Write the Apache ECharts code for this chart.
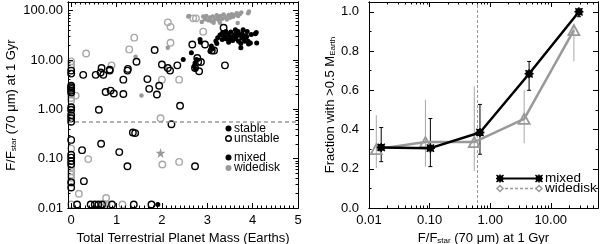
<!DOCTYPE html>
<html><head><meta charset="utf-8">
<script src="https://cdn.jsdelivr.net/npm/echarts@6/dist/echarts.min.js"></script>
<style>html,body{margin:0;padding:0;background:#fff}#c{width:600px;height:244px}</style>
</head><body><div id="c"></div>
<script>
// ---------------- DATA: left panel (mass vs F/Fstar) ----------------
const massTicks = [0, 1, 2, 3, 4, 5];
const fluxTicksLeft = [0.01, 0.1, 1, 10, 100];
const thresholdLeft = 0.57;

// mixed, stable (black filled)
const mixedStable = [
  [2.47,10.2],[2.65,14],[2.71,7.5],[2.73,8.7],[2.76,10.3],[2.74,6.6],[2.84,26],[2.85,23],
  [3.09,19.2],[3.12,17],[3.06,15.1],[3.21,21.7],[3.23,28.4],[3.19,24.2],
  [3.31,33],[3.34,36],[3.38,30],[3.41,27],[3.45,34],[3.49,31],[3.52,37],[3.54,28],[3.56,25],
  [3.60,33],[3.62,41],[3.63,27],[3.67,35],[3.69,24],[3.71,32],[3.74,21.7],[3.74,17.7],[3.76,28],
  [3.77,34],[3.81,26],[3.83,24],[3.84,31],[3.88,38],[3.90,24],[3.91,21],[3.95,22],[3.97,33],
  [4.06,34],[3.41,38],[3.47,23],[3.33,26],[3.28,32],[3.50,26],[3.57,29],[3.65,31],[3.68,38],
  [3.79,41],[3.84,27],[4.09,22],[3.87,30],[4.08,36],[1.91,0.0118]
];
// mixed, unstable (black open)
const mixedUnstable = [
  [0,6.1],[0,5.3],[0,3.0],[0,2.8],[0,2.6],[0,2.4],[0,2.2],[0,1.1],[0,0.98],[0,0.76],[0,0.66],
  [0,0.56],[0,0.24],[0,0.12],[0,0.105],[0,0.09],[0,0.077],[0,0.033],[0,0.026],
  [0.265,5.0],[0.54,5.0],[0.67,6.9],[0.65,5.6],[0.71,5.0],[0.61,0.98],[0.76,2.25],[0.87,2.4],
  [0.94,2.1],[0.85,6.4],[0.85,6.1],[1.15,4.0],[1.15,2.04],[1.24,6.1],[1.25,6.6],[1.44,9.2],
  [1.68,4.1],[1.72,2.6],[1.84,16],[1.89,2.0],[1.94,3.0],[2.0,8.1],[2.13,6.9],[2.18,6.1],
  [2.34,7.8],[2.40,1.18],[2.21,0.50],[1.36,0.34],[1.41,0.33],[0.24,0.149],[0.66,0.20],
  [1.06,0.136],[1.24,0.070],[2.73,0.070],[0.28,0.035],
  [0.13,0.0118],[0.43,0.0118],[0.52,0.0118],[0.60,0.0118],[0.68,0.0118],[0.90,0.0118],
  [1.38,0.0118],[1.77,0.0118],
  [2.67,20.7],[2.95,20.7],[3.36,45],[3.39,7.8],[2.82,5.9],[2.78,11],[2.80,9.2],[2.86,9.1],
  [2.73,6.9],[3.10,15.6],[3.15,15.6]
];
// widedisk, stable (gray filled)
const wideStable = [
  [1.42,11.6],[1.55,1.9],[2.08,6.9],[2.13,17.7],[2.58,76],
  [2.60,78],[2.88,59],[2.91,76],[2.95,67],[2.98,78],[3.02,64],[3.06,73],[3.09,61],[3.12,76],
  [3.14,57],[3.17,67],[3.21,81],[3.24,71],[3.26,63],[3.29,78],[3.33,69],[3.36,84],[3.40,74],
  [3.43,66],[3.47,82],[3.50,72],[3.54,85],[3.57,75],[3.61,82],[3.65,89],[3.67,56],[3.68,78],
  [3.72,86],[3.75,92],[3.90,89],[3.92,96],[3.28,57]
];
// widedisk, unstable (gray open)
const wideUnstable = [
  [0,9.4],[0,8.1],[0,7.0],[0,2.0],[0,1.7],[0,1.5],[0.1,1.9],[0,0.86],[0,0.16],[0,0.068],
  [0,0.056],[0,0.048],[0,0.041],[0,0.034],[0,0.0118],[0.33,13.6],[0.89,7.8],[1.28,16.4],
  [1.39,28.4],[2.13,58],[2.19,47],[2.19,22.4],[2.0,4.0],[2.38,4.0],[2.69,70],[2.75,70],
  [2.91,37.6],[1.97,0.66],[0.375,0.098],[2.01,0.076],[2.38,0.086],[0.17,0.0195],[0.77,0.016],
  [0.72,0.0118],[0.78,0.0118],[1.13,0.0118]
];
const widedStar = [[1.97,0.13]];

// ---------------- DATA: right panel (fraction vs F/Fstar) ----------------
const fluxTicksRight = [0.01, 0.1, 1, 10];
const fracTicks = [0, 0.2, 0.4, 0.6, 0.8, 1.0];
const thresholdRight = 0.6;
const mixedFlux = [0.0159, 0.103, 0.677, 4.38, 29.1];
const mixedFrac = [0.309, 0.305, 0.385, 0.684, 1.0];
const mixedLo   = [0.236, 0.211, 0.274, 0.600, 0.975];
const mixedHi   = [0.410, 0.456, 0.528, 0.747, 1.005];
const wideFlux  = [0.0132, 0.0853, 0.546, 3.63, 24.0];
const wideFrac  = [0.300, 0.336, 0.336, 0.454, 0.907];
const wideLo    = [0.203, 0.211, 0.189, 0.330, 0.748];
const wideHi    = [0.473, 0.552, 0.620, 0.600, 0.938];

// ---------------- STYLE ----------------
const FONT = '"Liberation Sans", Arial, Helvetica, sans-serif';
const GRAY = '#999999';
const LGRAY = '#a8a8a8';

function minorLog(lo, hi) {
  const out = [];
  for (let e = -3; e <= 3; e++) for (let m = 2; m <= 9; m++) {
    const v = m * Math.pow(10, e);
    if (v > lo && v < hi) out.push(+v.toPrecision(3));
  }
  return out;
}
function minorLin(lo, hi, step, skip) {
  const out = [];
  for (let v = Math.ceil(lo / step) * step; v <= hi + 1e-9; v += step) {
    const r = +v.toFixed(4);
    if (Math.abs(r / skip - Math.round(r / skip)) > 1e-6) out.push(r);
  }
  return out;
}

function ax(o) {
  const a = {
    type: o.type, gridIndex: o.grid, position: o.pos, min: o.min, max: o.max,
    logBase: 10,
    axisLine: { show: true, onZero: false, lineStyle: { color: '#000', width: 1 } },
    axisTick: { show: true, inside: true, length: o.len, customValues: o.ticks, lineStyle: { color: '#000', width: 1 } },
    axisLabel: { show: false },
    splitLine: { show: false }, minorTick: { show: false }, silent: true, z: 10
  };
  if (o.labels) {
    a.axisLabel = { show: true, customValues: o.ticks, formatter: o.fmt, fontSize: 13, fontFamily: FONT,
      color: '#000', margin: o.margin, showMinLabel: true, showMaxLabel: true, hideOverlap: false };
  }
  if (o.name) {
    a.name = o.name; a.nameLocation = 'middle'; a.nameGap = o.nameGap;
    a.nameTextStyle = Object.assign({ fontSize: 13, fontFamily: FONT, color: '#000',
      rich: {
        t: { fontSize: 13, fontFamily: FONT, color: '#000' },
        s: { fontSize: 8, fontFamily: FONT, color: '#000', verticalAlign: 'bottom', padding: [4, 0, 0, 0] }
      } }, o.nameStyle || {});
  }
  return a;
}

const LX = { min: -0.07, max: 5 };
const LY = { min: 0.01, max: 150 };
const RX = { min: 0.01, max: 60 };
const RY = { min: 0, max: 1.05 };

const xAxes = [
  ax({ type: 'value', grid: 0, pos: 'bottom', ...LX, ticks: massTicks, len: 5, labels: true, margin: 6,
       fmt: v => String(Math.round(v)), name: 'Total Terrestrial Planet Mass (Earths)', nameGap: 19 }),
  ax({ type: 'value', grid: 0, pos: 'top', ...LX, ticks: massTicks, len: 5 }),
  ax({ type: 'value', grid: 0, pos: 'bottom', ...LX, ticks: minorLin(0, 5, 0.1, 1), len: 2.5 }),
  ax({ type: 'value', grid: 0, pos: 'top', ...LX, ticks: minorLin(0, 5, 0.1, 1), len: 2.5 }),
  ax({ type: 'log', grid: 1, pos: 'bottom', ...RX, ticks: fluxTicksRight, len: 5, labels: true, margin: 6,
       fmt: v => v.toFixed(2), name: '{t|F/F}{s|star}{t| (70 μm) at 1 Gyr}', nameGap: 19 }),
  ax({ type: 'log', grid: 1, pos: 'top', ...RX, ticks: fluxTicksRight, len: 5 }),
  ax({ type: 'log', grid: 1, pos: 'bottom', ...RX, ticks: minorLog(0.01, 60), len: 2.5 }),
  ax({ type: 'log', grid: 1, pos: 'top', ...RX, ticks: minorLog(0.01, 60), len: 2.5 })
];
const yAxes = [
  ax({ type: 'log', grid: 0, pos: 'left', ...LY, ticks: fluxTicksLeft, len: 5, labels: true, margin: 5,
       fmt: v => v.toFixed(2), name: '{t|F/F}{s|star}{t| (70 μm) at 1 Gyr}', nameGap: 50 }),
  ax({ type: 'log', grid: 0, pos: 'right', ...LY, ticks: fluxTicksLeft, len: 5 }),
  ax({ type: 'log', grid: 0, pos: 'left', ...LY, ticks: minorLog(0.01, 150), len: 2.5 }),
  ax({ type: 'log', grid: 0, pos: 'right', ...LY, ticks: minorLog(0.01, 150), len: 2.5 }),
  ax({ type: 'value', grid: 1, pos: 'left', ...RY, ticks: fracTicks, len: 5, labels: true, margin: 10,
       fmt: v => v.toFixed(1), name: '{t|Fraction with >0.5 M}{s|Earth}', nameGap: 27 }),
  ax({ type: 'value', grid: 1, pos: 'right', ...RY, ticks: fracTicks, len: 5 }),
  ax({ type: 'value', grid: 1, pos: 'left', ...RY, ticks: minorLin(0, 1, 0.1, 0.2), len: 2.5 }),
  ax({ type: 'value', grid: 1, pos: 'right', ...RY, ticks: minorLin(0, 1, 0.1, 0.2), len: 2.5 })
];

const ASTER = 'path://M2,2L8,2L8,8L2,8Z M5,0L5,10 M0,5L10,5 M1,1L9,9 M9,1L1,9';
const STAR5 = 'path://M5,0L6.2,3.6L10,3.6L6.9,5.9L8.1,9.5L5,7.3L1.9,9.5L3.1,5.9L0,3.6L3.8,3.6Z';

function scatter(data, size, fill, stroke, bw, extra) {
  return Object.assign({
    type: 'scatter', xAxisIndex: 0, yAxisIndex: 0, data, symbol: 'circle', symbolSize: size,
    itemStyle: { color: fill, borderColor: stroke, borderWidth: bw, opacity: 1 },
    emphasis: { disabled: true }, silent: true, animation: false
  }, extra || {});
}

function errorBars(xs, lo, hi, color, cap) {
  return {
    type: 'custom', xAxisIndex: 4, yAxisIndex: 4, silent: true, animation: false, z: 3,
    data: xs.map((x, i) => [x, lo[i], hi[i]]),
    renderItem(params, api) {
      const a = api.coord([api.value(0), api.value(1)]);
      const b = api.coord([api.value(0), api.value(2)]);
      const st = { stroke: color, lineWidth: 1 };
      const ch = [{ type: 'line', shape: { x1: a[0], y1: a[1], x2: b[0], y2: b[1] }, style: st }];
      if (cap) {
        ch.push({ type: 'line', shape: { x1: a[0] - cap, y1: a[1], x2: a[0] + cap, y2: a[1] }, style: st });
        ch.push({ type: 'line', shape: { x1: b[0] - cap, y1: b[1], x2: b[0] + cap, y2: b[1] }, style: st });
      }
      return { type: 'group', children: ch };
    }
  };
}

const series = [
  scatter(wideUnstable, 6.5, 'rgba(0,0,0,0)', LGRAY, 1.4, {
    markLine: { silent: true, symbol: ['none', 'none'], label: { show: false },
      lineStyle: { color: GRAY, type: [4, 3], width: 1.5 }, data: [{ yAxis: thresholdLeft }], animation: false }
  }),
  scatter(wideStable, 4.5, GRAY, GRAY, 0),
  scatter(mixedUnstable, 6.5, 'rgba(0,0,0,0)', '#000', 1.4),
  scatter(mixedStable, 5, '#000', '#000', 0),
  scatter(widedStar, 10, GRAY, GRAY, 0, { symbol: STAR5 }),
  errorBars(wideFlux, wideLo, wideHi, LGRAY, 0),
  errorBars(mixedFlux, mixedLo, mixedHi, '#000', 2),
  {
    type: 'line', xAxisIndex: 4, yAxisIndex: 4, data: wideFlux.map((x, i) => [x, wideFrac[i]]),
    symbol: 'triangle', symbolSize: [11, 10], showAllSymbol: true, z: 4,
    lineStyle: { color: GRAY, width: 2.5 },
    itemStyle: { color: 'rgba(255,255,255,0)', borderColor: GRAY, borderWidth: 1.8 },
    emphasis: { disabled: true }, silent: true, animation: false,
    markLine: { silent: true, symbol: ['none', 'none'], label: { show: false },
      lineStyle: { color: GRAY, type: [3, 2], width: 1 }, data: [{ xAxis: thresholdRight }], animation: false }
  },
  {
    type: 'line', xAxisIndex: 4, yAxisIndex: 4, data: mixedFlux.map((x, i) => [x, mixedFrac[i]]),
    symbol: ASTER, symbolSize: 9, showAllSymbol: true, z: 5,
    lineStyle: { color: '#000', width: 2.5 },
    itemStyle: { color: '#000', borderColor: '#000', borderWidth: 1.5 },
    emphasis: { disabled: true }, silent: true, animation: false
  }
];

// legends (drawn as graphic, not data)
const txt = (x, y, s, fs) => ({ type: 'text', x, y, style: { text: s, fontSize: fs, fontFamily: FONT, fill: '#000', verticalAlign: 'middle', align: 'left' }, silent: true });
const asterMark = (cx, cy) => ({
  type: 'group', x: cx, y: cy, children: [
    { type: 'rect', shape: { x: -3, y: -3, width: 6, height: 6 }, style: { fill: '#000' } },
    { type: 'polyline', shape: { points: [[-4, 0], [4, 0]] }, style: { stroke: '#000', lineWidth: 1.5 } },
    { type: 'polyline', shape: { points: [[0, -4], [0, 4]] }, style: { stroke: '#000', lineWidth: 1.5 } },
    { type: 'polyline', shape: { points: [[-3.5, -3.5], [3.5, 3.5]] }, style: { stroke: '#000', lineWidth: 1.5 } },
    { type: 'polyline', shape: { points: [[-3.5, 3.5], [3.5, -3.5]] }, style: { stroke: '#000', lineWidth: 1.5 } }
  ]
});
const graphic = [
  { type: 'circle', shape: { cx: 228.5, cy: 128.5, r: 3 }, style: { fill: '#000' } },
  txt(234, 128.5, 'stable', 12),
  { type: 'circle', shape: { cx: 228.5, cy: 138.5, r: 2.8 }, style: { fill: 'none', stroke: '#000', lineWidth: 1.4 } },
  txt(234, 138.5, 'unstable', 12),
  { type: 'circle', shape: { cx: 228.5, cy: 157.5, r: 3 }, style: { fill: '#000' } },
  txt(234, 157.5, 'mixed', 12),
  { type: 'circle', shape: { cx: 228.5, cy: 168, r: 3 }, style: { fill: GRAY } },
  txt(234, 168, 'widedisk', 12),
  // right legend
  { type: 'line', shape: { x1: 500, y1: 178.5, x2: 539, y2: 178.5 }, style: { stroke: '#000', lineWidth: 2 } },
  asterMark(500, 178.5),
  asterMark(539, 178.5),
  txt(545, 178, 'mixed', 13.5),
  { type: 'line', shape: { x1: 500, y1: 188.5, x2: 539, y2: 188.5 }, style: { stroke: GRAY, lineWidth: 1.5, lineDash: [3, 2] } },
  { type: 'polygon', shape: { points: [[500, 185.5], [503, 188.5], [500, 191.5], [497, 188.5]] }, style: { fill: '#fff', stroke: GRAY, lineWidth: 1.5 } },
  { type: 'polygon', shape: { points: [[539, 185.5], [542, 188.5], [539, 191.5], [536, 188.5]] }, style: { fill: '#fff', stroke: GRAY, lineWidth: 1.5 } },
  txt(545, 188.5, 'widedisk', 13.5)
];

const chart = echarts.init(document.getElementById('c'), null, { renderer: 'canvas' });
chart.setOption({
  animation: false,
  backgroundColor: '#fff',
  textStyle: { fontFamily: FONT },
  grid: [
    { left: 68, right: 302, top: 2, bottom: 36, containLabel: false, outerBoundsMode: 'none' },
    { left: 369, right: 2, top: 2, bottom: 36, containLabel: false, outerBoundsMode: 'none' }
  ],
  xAxis: xAxes,
  yAxis: yAxes,
  series,
  graphic: { elements: graphic }
});
</script>
</body></html>
